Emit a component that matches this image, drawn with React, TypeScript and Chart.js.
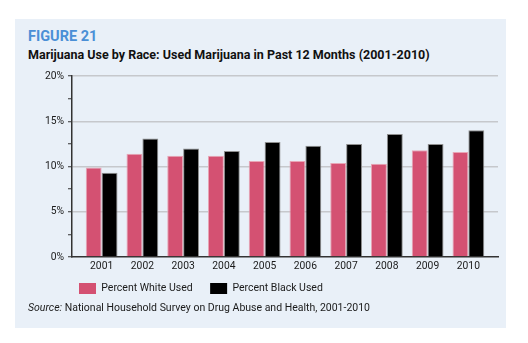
import React, { useEffect, useRef } from "react";
import { Chart, registerables } from "chart.js";

Chart.register(...registerables);

const years = [2001, 2002, 2003, 2004, 2005, 2006, 2007, 2008, 2009, 2010];
const whiteUsed = [9.9, 11.4, 11.2, 11.2, 10.6, 10.6, 10.4, 10.3, 11.8, 11.6];
const blackUsed = [9.3, 13.1, 12.0, 11.7, 12.7, 12.3, 12.5, 13.6, 12.5, 14.0];
const seriesNames = ["Percent White Used", "Percent Black Used"];
const yMax = 20;
const yStep = 2.5;
const yLabelStep = 5;

const PINK = "#d45172";
const BLACK = "#000000";
const PANEL = "#e9f0f8";
const FONT = "Roboto, 'Noto Sans', sans-serif";

export default function App() {
  const ref = useRef<HTMLCanvasElement | null>(null);

  useEffect(() => {
    if (!ref.current) return;
    const chart = new Chart(ref.current, {
      type: "bar",
      data: {
        datasets: [
          {
            label: seriesNames[0],
            data: years.map((x, i) => ({ x, y: whiteUsed[i] })),
            backgroundColor: PINK,
            borderColor: "#e8a6b6",
            borderWidth: { top: 1, left: 1, right: 1, bottom: 0 },
            categoryPercentage: 0.78,
            barPercentage: 1,
          },
          {
            label: seriesNames[1],
            data: years.map((x, i) => ({ x, y: blackUsed[i] })),
            backgroundColor: BLACK,
            borderColor: "#8f8f8f",
            borderWidth: { top: 1, left: 1, right: 1, bottom: 0 },
            categoryPercentage: 0.78,
            barPercentage: 1,
          },
        ],
      },
      options: {
        animation: false,
        responsive: false,
        maintainAspectRatio: false,
        layout: { padding: { top: 14, right: 7, left: 0, bottom: 0 } },
        scales: {
          x: {
            type: "linear",
            offset: false,
            min: years[0] - 0.727,
            max: years[years.length - 1] + 0.727,
            afterBuildTicks: (s: any) => {
              s.ticks = years.map((v) => ({ value: v }));
            },
            afterFit: (s: any) => {
              s.height = 19;
            },
            grid: { display: false, drawTicks: false, offset: false },
            border: { display: true, color: "#333333", width: 1.5 },
            ticks: {
              padding: 3,
              color: "#1a1a1a",
              font: { family: FONT, size: 10.3 },
              callback: (v: any) => String(v),
              maxRotation: 0,
              autoSkip: false,
            },
          },
          y: {
            min: 0,
            max: yMax,
            afterFit: (s: any) => {
              s.width = 57;
            },
            ticks: {
              stepSize: yStep,
              padding: 4,
              color: "#1a1a1a",
              font: { family: FONT, size: 10.3 },
              callback: (v: any) => (Number(v) % yLabelStep === 0 ? v + "%" : ""),
            },
            grid: {
              color: (c: any) =>
                c.tick && c.tick.value % yLabelStep === 0 && c.tick.value !== 0
                  ? "#c6c8cc"
                  : "rgba(0,0,0,0)",
              lineWidth: 1.5,
              tickColor: "#333333",
              tickWidth: 1,
              tickLength: 4,
            },
            border: { display: true, color: "#333333", width: 1.5 },
          },
        },
        plugins: {
          tooltip: { enabled: false },
          legend: {
            position: "bottom",
            align: "start",
            fullSize: false,
            labels: {
              boxWidth: 17,
              boxHeight: 11,
              padding: 7,
              color: "#1a1a1a",
              font: { family: FONT, size: 10.5 },
              generateLabels: (ch: any) =>
                ch.data.datasets.map((d: any, i: number) => ({
                  text: i === 0 ? d.label + "    " : d.label,
                  fillStyle: d.backgroundColor,
                  strokeStyle: d.backgroundColor,
                  lineWidth: 0,
                  hidden: false,
                  datasetIndex: i,
                  fontColor: "#1a1a1a",
                })),
            },
          },
        },
      },
    });
    return () => chart.destroy();
  }, []);

  return (
    <div
      style={{
        position: "absolute",
        left: 15,
        top: 19,
        width: 491,
        height: 309,
        background: PANEL,
        fontFamily: FONT,
      }}
    >
      <div
        style={{
          position: "absolute",
          left: 13,
          top: 11,
          fontSize: 14.5,
          lineHeight: "14px",
          fontWeight: 700,
          color: "#4a8fd6",
          whiteSpace: "nowrap",
        }}
      >
        FIGURE 21
      </div>
      <div
        style={{
          position: "absolute",
          left: 13,
          top: 30,
          fontSize: 12.5,
          lineHeight: "12px",
          fontWeight: 700,
          color: "#111111",
          whiteSpace: "nowrap",
        }}
      >
        Marijuana Use by Race: Used Marijuana in Past 12 Months (2001-2010)
      </div>
      <canvas
        ref={ref}
        width={490}
        height={242}
        style={{ position: "absolute", left: 0, top: 43, width: 490, height: 242 }}
      />
      <div
        style={{
          position: "absolute",
          left: 13,
          top: 284,
          fontSize: 10.5,
          lineHeight: "10.5px",
          color: "#1a1a1a",
          whiteSpace: "nowrap",
        }}
      >
        <i>Source:</i> National Household Survey on Drug Abuse and Health, 2001-2010
      </div>
    </div>
  );
}
